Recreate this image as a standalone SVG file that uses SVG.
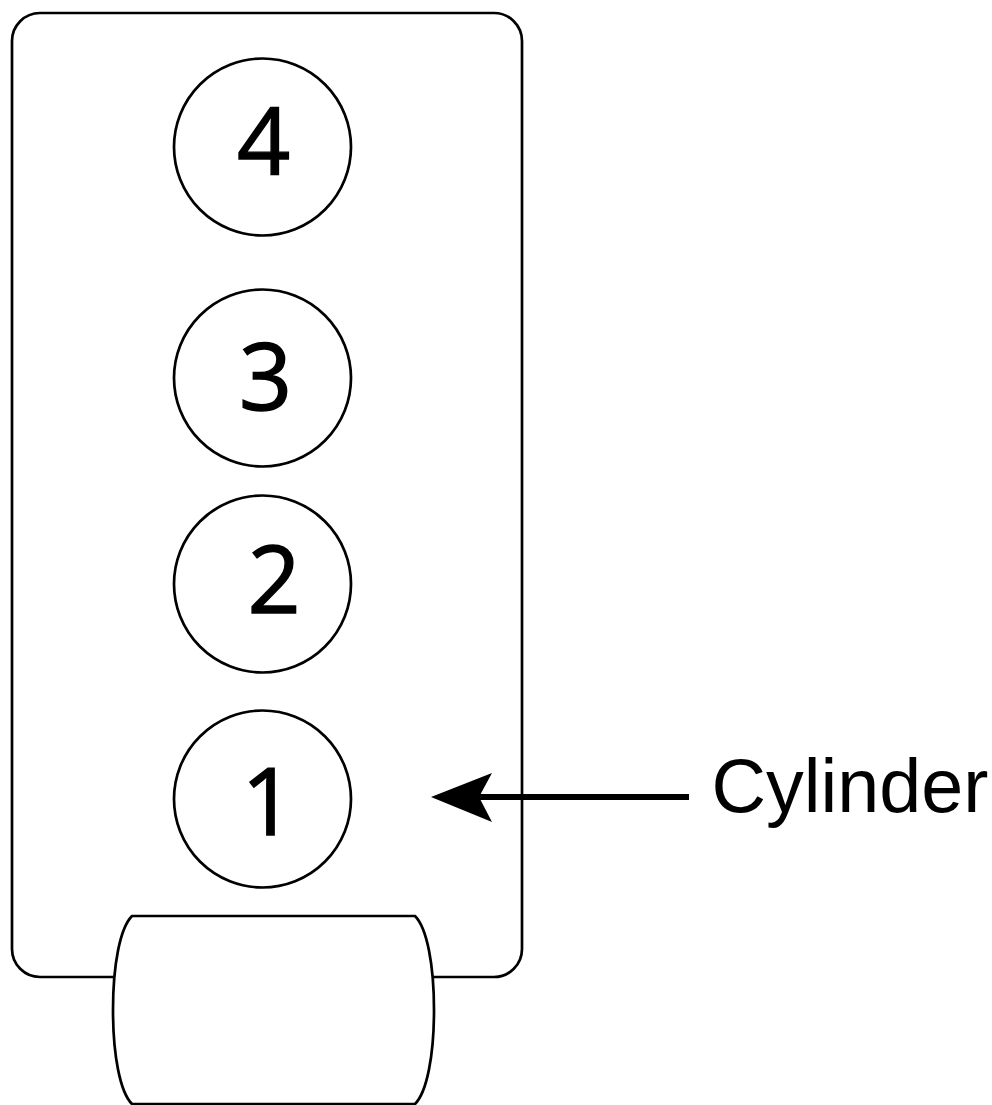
<svg xmlns="http://www.w3.org/2000/svg" width="992" height="1105" viewBox="0 0 992 1105">
<style>
.s{fill:#fff;stroke:#000;stroke-width:2.7}
.n{font-family:"Open Sans","Noto Sans",sans-serif;font-size:93px;text-anchor:middle;fill:#000;stroke:#000;stroke-width:1.4}
.l{font-family:"Liberation Sans",Arial,sans-serif;font-size:75.500px;fill:#000}
</style>
<rect width="992" height="1105" fill="#fff"/>
<g id="block"><rect class="s" x="12" y="13" width="510" height="964" rx="28" ry="28"/></g>
<g id="cyl4"><circle class="s" cx="262.500" cy="147" r="88.500"/><text class="n" x="263.500" y="174.500">4</text></g>
<g id="cyl3"><circle class="s" cx="262.500" cy="378" r="88.500"/><text class="n" x="265.500" y="409.500">3</text></g>
<g id="cyl2"><circle class="s" cx="262.500" cy="584" r="88.500"/><text class="n" x="274" y="612.500">2</text></g>
<g id="cyl1"><circle class="s" cx="262.500" cy="799" r="88.500"/><text class="n" x="268" y="834.500">1</text></g>
<g id="pulley"><path class="s" d="M132 916H415C427 928 434 965 434 1010C434 1055 427 1092 415 1104H132C120 1092 113 1055 113 1010C113 965 120 928 132 916Z"/></g>
<g id="connectors"><path d="M689 797H470" fill="none" stroke="#000" stroke-width="6"/><path d="M431 797L492 773L479 797L492 822Z" fill="#000"/></g>
<g id="label"><text class="l" x="711.500" y="812">Cylinder</text></g>
</svg>
